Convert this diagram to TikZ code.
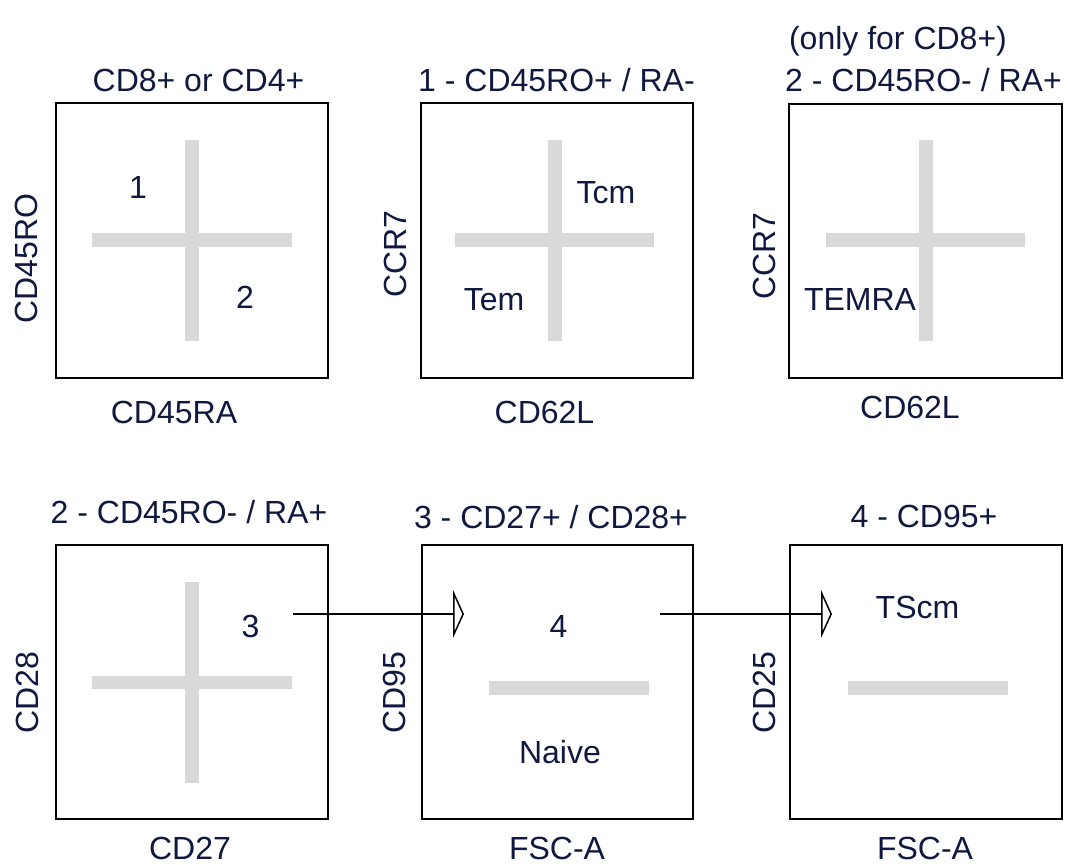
\documentclass[tikz,border=0pt]{standalone}
\usepackage{fontspec}
\setmainfont{Liberation Sans}
\usetikzlibrary{arrows.meta}
\definecolor{txt}{RGB}{16,24,64}
\definecolor{barc}{RGB}{217,217,217}
\tikzset{
  lbl/.style={text=txt, font=\fontsize{32}{38}\selectfont, inner sep=0pt, anchor=base},
  ylbl/.style={lbl, rotate=90},
  plot/.style={draw=black, line width=1.7pt, fill=none, inner sep=0pt, minimum width=272pt, minimum height=275pt},
  gate/.style={draw=barc, line width=13.5pt},
  flow/.style={draw=black, line width=1.5pt, -{Triangle[open, length=11pt, width=48pt]}}
}
\begin{document}
\begin{tikzpicture}[x=1pt, y=-1pt]
\useasboundingbox (0,0) rectangle (1069,865);
% boxes
\node[plot] (b1) at (192,240.5) {};
\node[plot] (b2) at (557,240.5) {};
\node[plot, minimum width=273pt, minimum height=274pt] (b3) at (925.5,241) {};
\node[plot, minimum height=274pt] (b4) at (192,682) {};
\node[plot, minimum width=271pt, minimum height=274pt] (b5) at (557.5,682) {};
\node[plot, minimum height=274pt] (b6) at (926,682) {};
% gates
\draw[gate] (192,140) -- (192,341);
\draw[gate] (92,240) -- (292,240);
\draw[gate] (555,140) -- (555,341);
\draw[gate] (455,240) -- (654,240);
\draw[gate] (926,140) -- (926,341);
\draw[gate] (826,240) -- (1025,240);
\draw[gate] (192,582) -- (192,783);
\draw[gate] (92,682.5) -- (292,682.5);
\draw[gate] (489,688) -- (649,688);
\draw[gate] (848,688) -- (1008,688);
% titles
\node[lbl] (t1) at (198.5,91) {CD8+ or CD4+};
\node[lbl] (t2) at (556.5,91) {1 - CD45RO+ / RA-};
\node[lbl] (t3a) at (898,49) {(only for CD8+)};
\node[lbl] (t3) at (923.5,91) {2 - CD45RO- / RA+};
\node[lbl] (t4) at (189,523) {2 - CD45RO- / RA+};
\node[lbl] (t5) at (551,528) {3 - CD27+ / CD28+};
\node[lbl] (t6) at (924,527) {4 - CD95+};
% x labels
\node[lbl] (x1) at (174,423) {CD45RA};
\node[lbl] (x2) at (544.5,423) {CD62L};
\node[lbl] (x3) at (910,418) {CD62L};
\node[lbl] (x4) at (190,859) {CD27};
\node[lbl] (x5) at (557,859) {FSC-A};
\node[lbl] (x6) at (925,859) {FSC-A};
% y labels
\node[ylbl] (y1) at (37,258.5) {CD45RO};
\node[ylbl] (y2) at (406,254) {CCR7};
\node[ylbl] (y3) at (775,256) {CCR7};
\node[ylbl] (y4) at (38,693) {CD28};
\node[ylbl] (y5) at (405,693) {CD95};
\node[ylbl] (y6) at (775,693) {CD25};
% quadrant labels
\node[lbl] (q1) at (138,198) {1};
\node[lbl] (q2) at (245,308) {2};
\node[lbl] (tcm) at (606,203) {Tcm};
\node[lbl] (tem) at (494,310) {Tem};
\node[lbl] (temra) at (860,310) {TEMRA};
\node[lbl] (q3) at (250.5,637) {3};
\node[lbl] (q4) at (558.5,637) {4};
\node[lbl] (naive) at (560,763) {Naive};
\node[lbl] (tscm) at (917.5,618) {TScm};
% arrows
\coordinate (a1s) at (293,614);
\coordinate (a1e) at (464,614);
\coordinate (a2s) at (660,614);
\coordinate (a2e) at (832,614);
\draw[flow] (a1s) -- (a1e);
\draw[flow] (a2s) -- (a2e);
\end{tikzpicture}
\end{document}
